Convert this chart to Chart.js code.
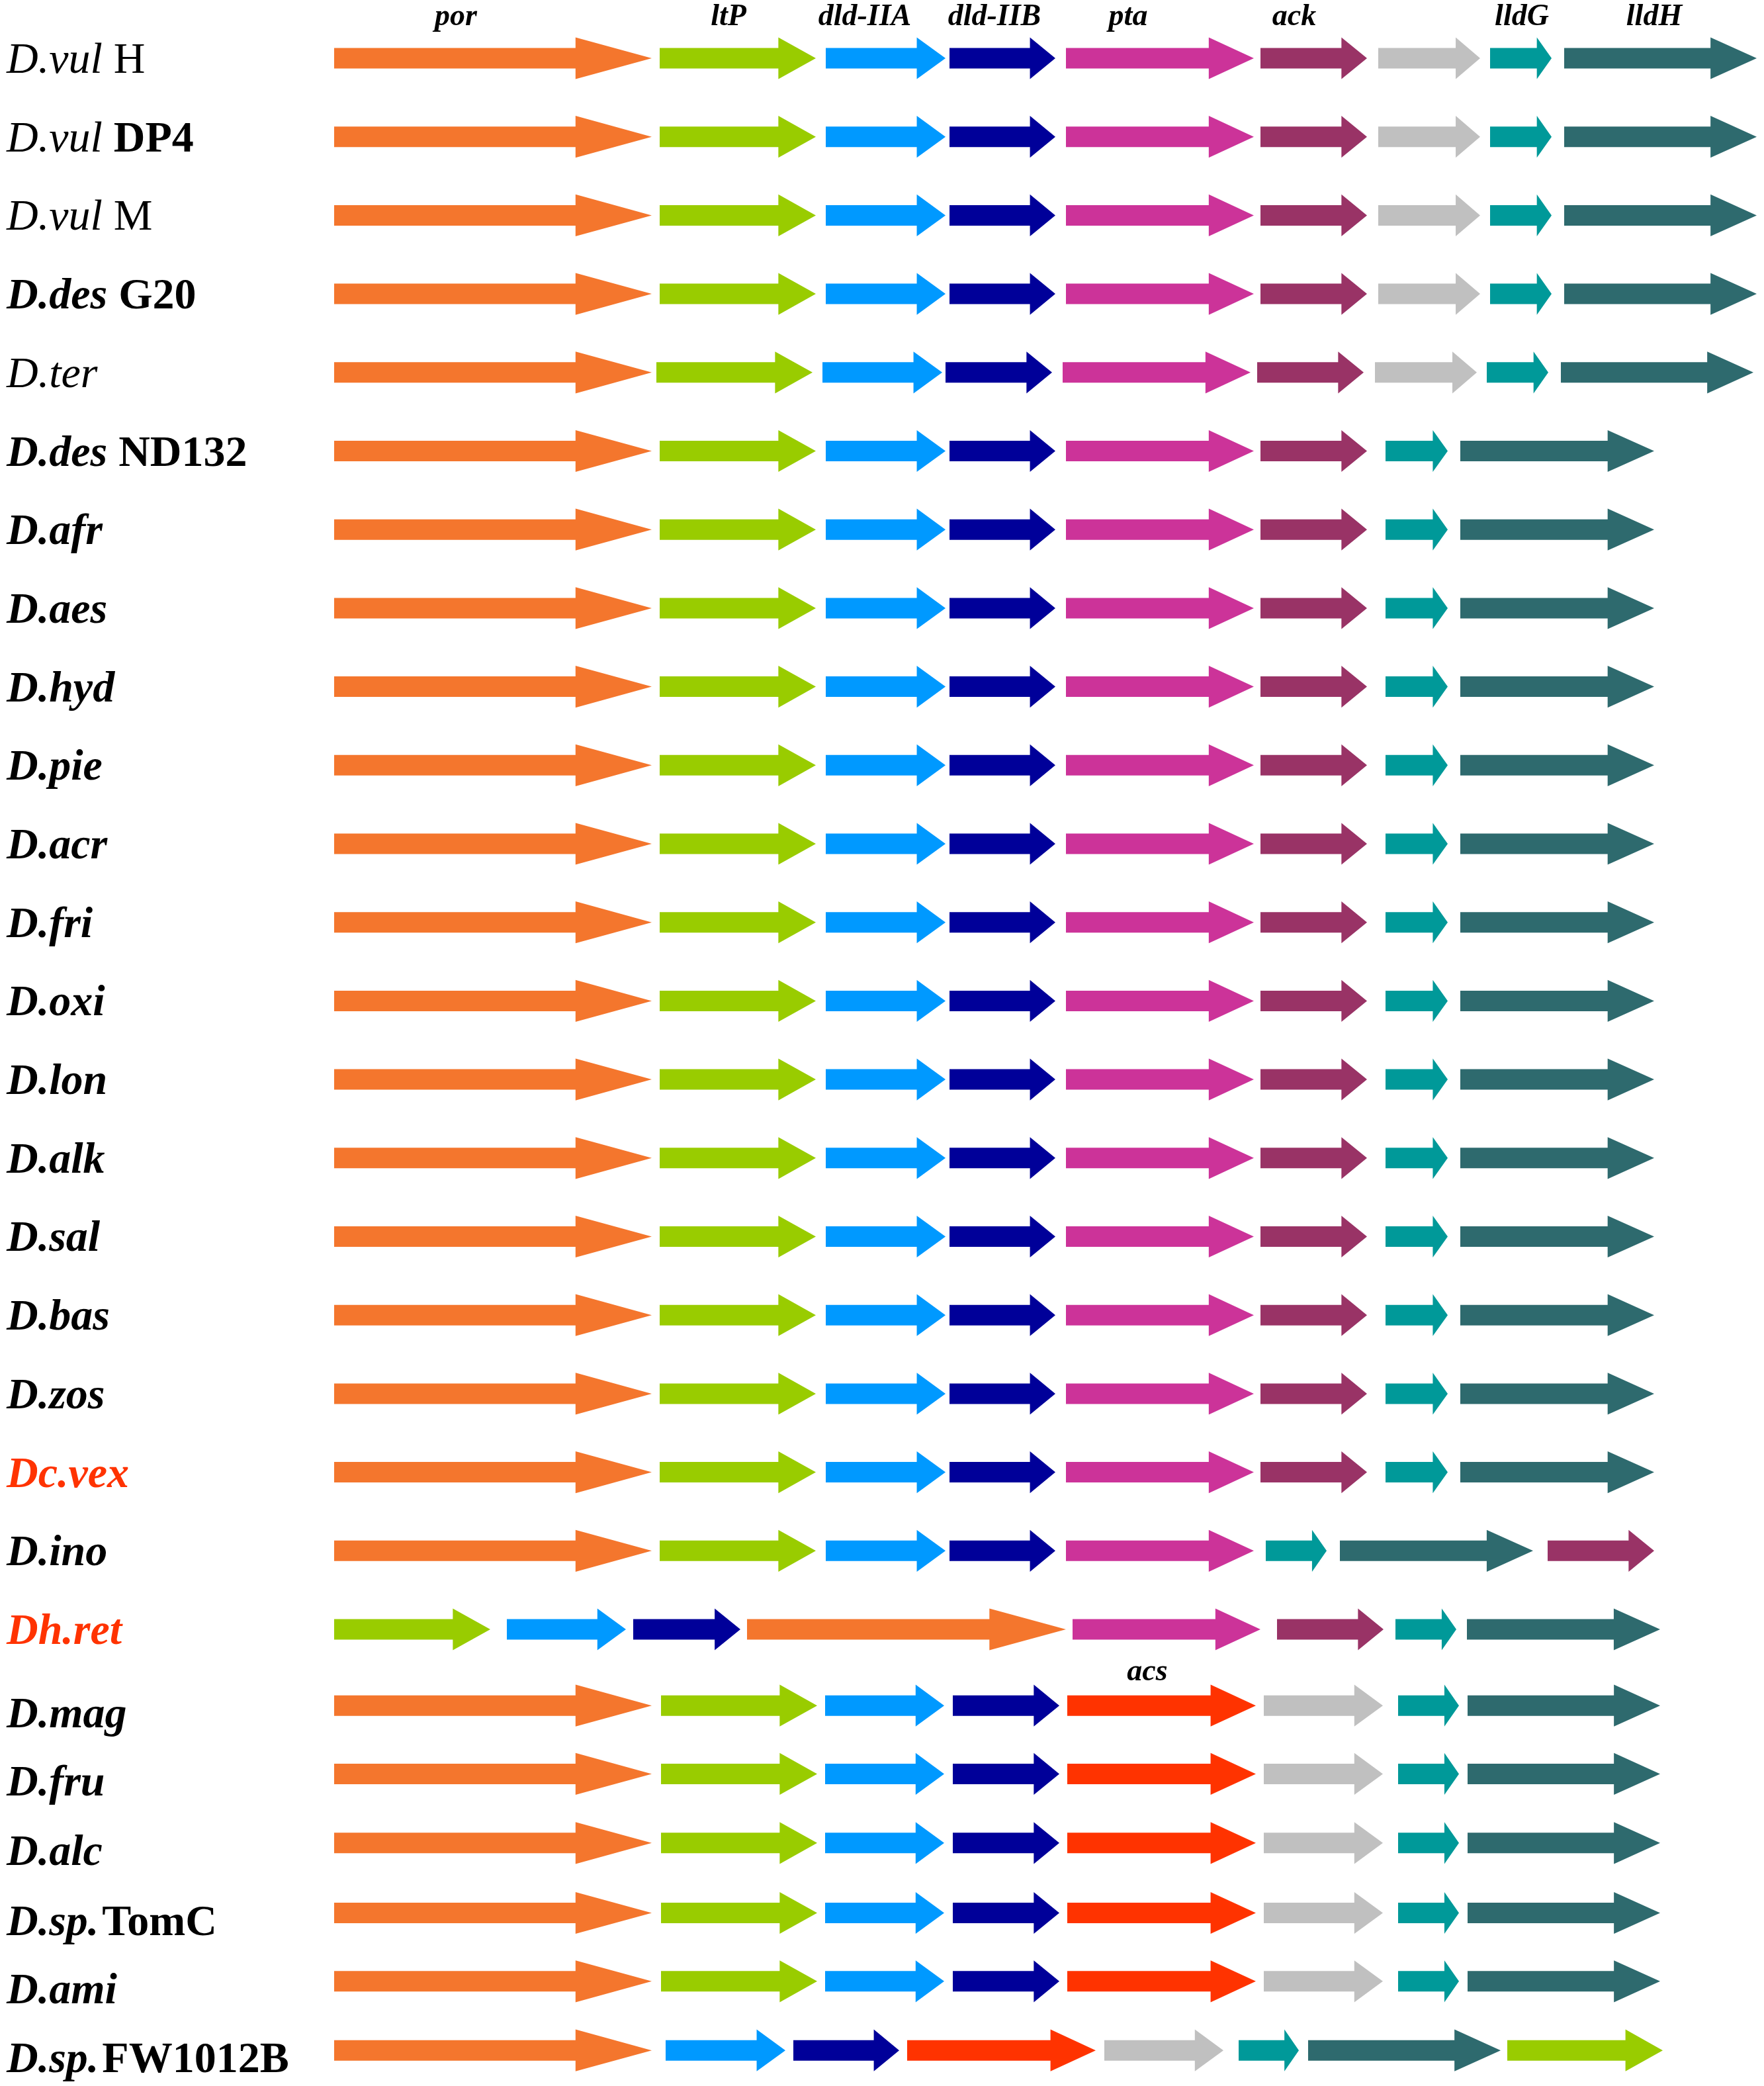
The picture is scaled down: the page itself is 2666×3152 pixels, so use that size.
<!DOCTYPE html>
<html>
<head>
<meta charset="utf-8">
<script src="https://cdn.jsdelivr.net/npm/chart.js@4.4.1/dist/chart.umd.min.js"></script>
<style>
html,body{margin:0;padding:0;background:#ffffff;}
#wrap{width:2666px;height:3152px;position:relative;}
</style>
</head>
<body>
<div id="wrap"><canvas id="c"></canvas></div>
<script>
// ---------- DATA ----------
const species = ["D.vul","D.vul","D.vul","D.des","D.ter","D.des","D.afr","D.aes","D.hyd","D.pie",
  "D.acr","D.fri","D.oxi","D.lon","D.alk","D.sal","D.bas","D.zos","Dc.vex","D.ino",
  "Dh.ret","D.mag","D.fru","D.alc","D.sp.","D.ami","D.sp."];
const strains = ["H","DP4","M","G20","","ND132","","","","",
  "","","","","","","","","","",
  "","","","","TomC","","FW1012B"];
// row position on the vertical axis (row index units)
const rowPos = [0,1,2,3,4,5,6,7,8,9,10,11,12,13,14,15,16,17,18,19,20,
  20.97,21.84,22.72,23.61,24.48,25.36];

const geneNames = ["por","ltP","dld-IIA","dld-IIB","pta","ack","orf","lldG","lldH","acs"];

// [start, end] of each gene per row (null = absent)
const por = [
  [505,985],[505,985],[505,985],[505,985],[505,985],
  [505,985],[505,985],[505,985],[505,985],[505,985],
  [505,985],[505,985],[505,985],[505,985],[505,985],
  [505,985],[505,985],[505,985],[505,985],[505,985],
  [1129,1611],
  [505,985],[505,985],[505,985],[505,985],[505,985],[505,985]];
const ltP = [
  [997,1233],[997,1233],[997,1233],[997,1233],[992,1228],
  [997,1233],[997,1233],[997,1233],[997,1233],[997,1233],
  [997,1233],[997,1233],[997,1233],[997,1233],[997,1233],
  [997,1233],[997,1233],[997,1233],[997,1233],[997,1233],
  [505,741],
  [999,1235],[999,1235],[999,1235],[999,1235],[999,1235],[2278,2513]];
const dldIIA = [
  [1248,1429],[1248,1429],[1248,1429],[1248,1429],[1243,1424],
  [1248,1429],[1248,1429],[1248,1429],[1248,1429],[1248,1429],
  [1248,1429],[1248,1429],[1248,1429],[1248,1429],[1248,1429],
  [1248,1429],[1248,1429],[1248,1429],[1248,1429],[1248,1429],
  [766,946],
  [1247,1427],[1247,1427],[1247,1427],[1247,1427],[1247,1427],[1006,1187]];
const dldIIB = [
  [1435,1595],[1435,1595],[1435,1595],[1435,1595],[1429,1590],
  [1435,1595],[1435,1595],[1435,1595],[1435,1595],[1435,1595],
  [1435,1595],[1435,1595],[1435,1595],[1435,1595],[1435,1595],
  [1435,1595],[1435,1595],[1435,1595],[1435,1595],[1435,1595],
  [957,1119],
  [1440,1601],[1440,1601],[1440,1601],[1440,1601],[1440,1601],[1199,1359]];
const pta = [
  [1611,1895],[1611,1895],[1611,1895],[1611,1895],[1606,1890],
  [1611,1895],[1611,1895],[1611,1895],[1611,1895],[1611,1895],
  [1611,1895],[1611,1895],[1611,1895],[1611,1895],[1611,1895],
  [1611,1895],[1611,1895],[1611,1895],[1611,1895],[1611,1895],
  [1621,1905],
  null,null,null,null,null,null];
const ack = [
  [1905,2066],[1905,2066],[1905,2066],[1905,2066],[1900,2061],
  [1905,2066],[1905,2066],[1905,2066],[1905,2066],[1905,2066],
  [1905,2066],[1905,2066],[1905,2066],[1905,2066],[1905,2066],
  [1905,2066],[1905,2066],[1905,2066],[1905,2066],[2339,2500],
  [1930,2091],
  null,null,null,null,null,null];
const orf = [
  [2083,2237],[2083,2237],[2083,2237],[2083,2237],[2078,2232],
  null,null,null,null,null,
  null,null,null,null,null,
  null,null,null,null,null,
  null,
  [1910,2090],[1910,2090],[1910,2090],[1910,2090],[1910,2090],[1669,1849]];
const lldG = [
  [2252,2345],[2252,2345],[2252,2345],[2252,2345],[2247,2340],
  [2094,2188],[2094,2188],[2094,2188],[2094,2188],[2094,2188],
  [2094,2188],[2094,2188],[2094,2188],[2094,2188],[2094,2188],
  [2094,2188],[2094,2188],[2094,2188],[2094,2188],[1913,2005],
  [2109,2201],
  [2113,2205],[2113,2205],[2113,2205],[2113,2205],[2113,2205],[1872,1963]];
const lldH = [
  [2364,2655],[2364,2655],[2364,2655],[2364,2655],[2359,2650],
  [2207,2500],[2207,2500],[2207,2500],[2207,2500],[2207,2500],
  [2207,2500],[2207,2500],[2207,2500],[2207,2500],[2207,2500],
  [2207,2500],[2207,2500],[2207,2500],[2207,2500],[2025,2317],
  [2217,2509],
  [2218,2509],[2218,2509],[2218,2509],[2218,2509],[2218,2509],[1977,2268]];
const acs = [
  null,null,null,null,null,
  null,null,null,null,null,
  null,null,null,null,null,
  null,null,null,null,null,
  null,
  [1613,1898],[1613,1898],[1613,1898],[1613,1898],[1613,1898],[1371,1656]];

const geneSpans = [por, ltP, dldIIA, dldIIB, pta, ack, orf, lldG, lldH, acs];

// ---------- STYLE / LAYOUT ----------
const geneColors = ["#F4762D","#99CC00","#0099FF","#000099","#CC3399","#993366",
  "#C0C0C0","#009999","#2E6A6E","#FF3300"];
const headerLabels = ["por","ltP","dld-IIA","dld-IIB","pta","ack","lldG","lldH"];
const headerX = [689,1101,1307,1503,1705,1956,2300,2500];
const speciesBold = [false,false,false,true,false,true];
const strainBold = {"H":false,"DP4":true,"M":false,"G20":true,"ND132":true,"TomC":true,"FW1012B":true};
const redRows = [18,20];
const SERIF = '"Liberation Serif","Times New Roman",serif';

const datasets = geneNames.map((g, gi) => ({
  label: g,
  data: geneSpans[gi].map((s, i) => s ? {x: s, y: rowPos[i]} : null).filter(Boolean),
  backgroundColor: geneColors[gi],
  barThickness: 31,
  grouped: false
}));

const arrowPlugin = {
  id: 'arrows',
  beforeDatasetDraw(chart, args) {
    const ctx = chart.ctx;
    const ds = chart.data.datasets[args.index];
    ctx.save();
    ctx.fillStyle = ds.backgroundColor;
    args.meta.data.forEach(el => {
      const p = el.getProps(['x','base','y','height'], true);
      const x0 = Math.min(p.x, p.base), x1 = Math.max(p.x, p.base);
      const len = x1 - x0, hl = len * 0.24;
      const sh = p.height / 2, hh = p.height * 1.02;
      const y = p.y;
      ctx.beginPath();
      ctx.moveTo(x0, y - sh);
      ctx.lineTo(x1 - hl, y - sh);
      ctx.lineTo(x1 - hl, y - hh);
      ctx.lineTo(x1, y);
      ctx.lineTo(x1 - hl, y + hh);
      ctx.lineTo(x1 - hl, y + sh);
      ctx.lineTo(x0, y + sh);
      ctx.closePath();
      ctx.fill();
    });
    ctx.restore();
    return false;
  }
};

const labelPlugin = {
  id: 'labels',
  afterDraw(chart) {
    const ctx = chart.ctx;
    const xs = chart.scales.x, ys = chart.scales.y;
    ctx.save();
    ctx.textBaseline = 'alphabetic';
    // row labels
    species.forEach((sp, i) => {
      const yc = ys.getPixelForValue(rowPos[i]);
      const yb = yc + (i >= 21 ? 33 : 22);
      const color = redRows.includes(i) ? '#FF3300' : '#000000';
      const spBold = i < speciesBold.length ? speciesBold[i] : true;
      ctx.fillStyle = color;
      ctx.textAlign = 'left';
      ctx.font = 'italic ' + (spBold ? 'bold ' : '') + '66px ' + SERIF;
      let x = 10;
      ctx.fillText(sp, x, yb);
      x += ctx.measureText(sp).width;
      const st = strains[i];
      if (st) {
        ctx.font = (strainBold[st] ? 'bold ' : '') + '66px ' + SERIF;
        x += sp.endsWith('.') ? 5 : 17;
        ctx.fillText(st, x, yb);
      }
    });
    // header gene labels
    ctx.fillStyle = '#000000';
    ctx.textAlign = 'center';
    ctx.font = 'italic bold 46px ' + SERIF;
    const topY = ys.getPixelForValue(rowPos[0]) - 50;
    headerLabels.forEach((t, k) => {
      ctx.fillText(t, xs.getPixelForValue(headerX[k]), topY);
    });
    // acs label above D.mag
    ctx.fillText('acs', xs.getPixelForValue(1734), ys.getPixelForValue(rowPos[21]) - 38);
    ctx.restore();
  }
};

new Chart(document.getElementById('c'), {
  type: 'bar',
  data: { datasets },
  options: {
    indexAxis: 'y',
    responsive: true,
    maintainAspectRatio: false,
    animation: false,
    layout: { padding: 0 },
    plugins: { legend: { display: false }, tooltip: { enabled: false }, title: { display: false } },
    scales: {
      x: { type: 'linear', min: 0, max: 2666, display: false, offset: false, grid: { offset: false } },
      y: { type: 'linear', reverse: true, min: -0.7414, max: 25.813, display: false, offset: false, grid: { offset: false } }
    }
  },
  plugins: [arrowPlugin, labelPlugin]
});
</script>
</body>
</html>
